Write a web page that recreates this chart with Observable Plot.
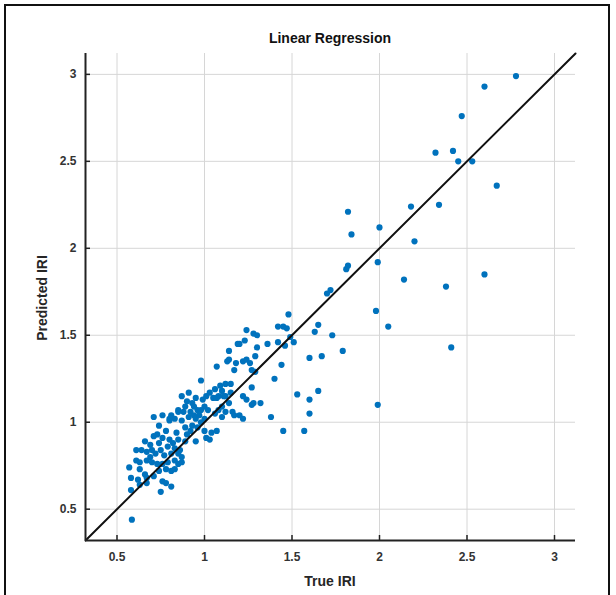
<!DOCTYPE html>
<html><head><meta charset="utf-8">
<script src="https://cdn.jsdelivr.net/npm/d3@7"></script>
<script src="https://cdn.jsdelivr.net/npm/@observablehq/plot@0.6"></script>
<style>
body{margin:0;background:#fff;}
#wrap{position:relative;width:616px;height:595px;overflow:hidden;font-family:"Liberation Sans",Arial,Helvetica,sans-serif;background:#fff;}
#frame{position:absolute;left:4px;top:4px;width:606px;height:610px;border:2px solid #111;box-sizing:border-box;pointer-events:none;}
#chart{position:absolute;left:0;top:0;}
.lbl{position:absolute;font-weight:bold;color:#262626;font-size:14px;white-space:nowrap;text-align:center;}
#title{left:230px;top:30px;width:200px;line-height:16px;color:#111;}
#xlab{left:230px;top:573px;width:200px;line-height:16px;}
#ylab{left:-58px;top:290px;width:200px;line-height:16px;transform:rotate(-90deg);}
</style>
</head><body>
<div id="wrap">
  <div id="chart"></div>
  <div id="title" class="lbl">Linear Regression</div>
  <div id="xlab" class="lbl">True IRI</div>
  <div id="ylab" class="lbl">Predicted IRI</div>
  <div id="frame"></div>
</div>
<script>
const axisLimits = [0.32, 3.12];
const xTicks = [0.5, 1, 1.5, 2, 2.5, 3];
const yTicks = [0.5, 1, 1.5, 2, 2.5, 3];

const trueIRI = [
2.78,2.60,2.47,2.32,2.42,2.45,2.53,2.67,2.18,2.34,2.20,2.14,2.60,2.38,2.41,
1.82,1.84,2.00,1.99,1.81,1.82,1.70,1.72,1.98,2.05,1.65,1.63,1.73,1.49,1.51,
1.60,1.67,1.79,1.53,1.65,1.60,1.60,1.57,1.99,1.48,1.42,1.45,1.47,1.30,1.36,
1.42,1.46,1.29,1.27,1.29,1.44,1.40,1.27,1.28,1.32,1.38,1.45,1.24,1.28,1.23,
1.30,1.20,1.14,1.18,1.13,1.22,1.24,1.26,1.07,1.17,0.98,1.09,1.12,1.15,1.10,
1.08,1.11,1.15,1.01,1.05,1.22,1.24,1.27,1.00,0.98,1.10,1.14,1.16,1.20,0.87,
0.91,0.95,0.99,0.93,0.89,0.85,0.94,1.07,1.12,1.08,1.12,1.06,1.10,1.17,1.22,
0.71,0.76,0.80,0.81,0.85,0.87,0.83,0.80,0.88,0.92,0.91,0.94,0.96,1.02,1.00,
0.98,0.93,0.89,0.74,0.73,0.66,0.84,0.85,0.82,0.79,0.83,0.81,0.85,0.86,0.87,
0.61,0.64,0.67,0.70,0.69,0.72,0.75,0.77,0.61,0.63,0.67,0.70,0.73,0.76,0.79,
0.83,0.85,0.87,0.57,0.58,0.63,0.66,0.62,0.67,0.71,0.74,0.78,0.81,0.83,0.58,
0.63,0.67,0.76,0.78,0.75,0.81,0.585,1.00,1.04,1.07,1.01,1.03,0.95,0.89,0.80,
0.96,0.92,0.76,0.71,0.95,1.14,1.19,1.06,1.03,0.90,0.78,0.69,0.74,0.90,0.97
];
const predIRI = [
2.99,2.93,2.76,2.55,2.56,2.50,2.50,2.36,2.24,2.25,2.04,1.82,1.85,1.78,1.43,
2.21,2.08,2.12,1.92,1.88,1.90,1.74,1.76,1.64,1.55,1.56,1.52,1.50,1.49,1.46,
1.37,1.38,1.41,1.16,1.18,1.13,1.05,0.95,1.10,1.62,1.55,1.55,1.54,1.50,1.45,
1.46,1.44,1.38,1.30,1.29,1.33,1.25,1.20,1.11,1.11,1.03,0.95,1.53,1.51,1.47,
1.43,1.45,1.41,1.34,1.35,1.35,1.36,1.34,1.32,1.30,1.24,1.21,1.22,1.22,1.18,
1.15,1.15,1.17,1.15,1.14,1.15,1.13,1.10,1.09,1.07,1.09,1.11,1.06,1.04,1.15,
1.17,1.14,1.13,1.11,1.09,1.07,1.09,1.14,1.15,1.07,1.06,1.05,1.03,1.04,1.02,
1.03,1.04,1.02,1.04,1.06,1.01,1.02,1.01,1.06,1.06,1.03,1.04,1.07,1.07,1.02,
1.00,0.98,0.97,0.98,0.93,0.89,0.94,0.90,0.88,0.86,0.85,0.82,0.82,0.84,0.80,
0.84,0.84,0.83,0.84,0.80,0.82,0.84,0.81,0.78,0.77,0.78,0.77,0.76,0.76,0.77,
0.78,0.76,0.77,0.74,0.68,0.73,0.70,0.67,0.68,0.69,0.72,0.73,0.72,0.73,0.61,
0.64,0.65,0.66,0.65,0.60,0.63,0.44,0.95,0.94,0.95,0.91,0.90,0.89,0.89,0.90,
0.97,0.95,0.91,0.92,1.02,1.36,1.45,1.19,1.17,1.12,0.95,0.87,0.88,0.93,1.04
];

const points = trueIRI.map((t, i) => ({t, p: predIRI[i]}));
const [lo, hi] = axisLimits;
const W = 616, H = 595, mL = 85, mR = 41, mT = 53, mB = 55;
const plotW = W - mL - mR, plotH = H - mT - mB;
const tickFont = {fontSize: 12, fontWeight: "bold", fill: "#333", tickFormat: d => String(d)};

const chart = Plot.plot({
  width: W, height: H,
  marginLeft: mL, marginRight: mR, marginTop: mT, marginBottom: mB,
  style: {fontFamily: '"Liberation Sans", Arial, Helvetica, sans-serif', background: "transparent", overflow: "visible"},
  x: {domain: axisLimits, label: null},
  y: {domain: axisLimits, label: null},
  marks: [
    Plot.gridX(xTicks, {stroke: "#d6d6d6", strokeOpacity: 1, strokeWidth: 1}),
    Plot.gridY(yTicks, {stroke: "#d6d6d6", strokeOpacity: 1, strokeWidth: 1}),
    Plot.axisX(xTicks, {tickSize: 0, tickPadding: 12, label: null, ...tickFont}),
    Plot.axisY(yTicks, {tickSize: 0, tickPadding: 9, label: null, ...tickFont}),
    Plot.dot(points, {x: "t", y: "p", r: 3.1, fill: "#0072BD", stroke: "none"}),
    Plot.line(axisLimits, {x: d => d, y: d => d, stroke: "#111", strokeWidth: 2}),
    Plot.tickX(xTicks, {x: d => d, insetTop: plotH - 5, stroke: "#222", strokeWidth: 1.5}),
    Plot.tickY(yTicks, {y: d => d, insetRight: plotW - 5, stroke: "#222", strokeWidth: 1.5}),
    Plot.ruleX([lo], {stroke: "#222", strokeWidth: 2}),
    Plot.ruleY([lo], {stroke: "#222", strokeWidth: 2})
  ]
});
document.getElementById("chart").appendChild(chart);
</script>
</body></html>
